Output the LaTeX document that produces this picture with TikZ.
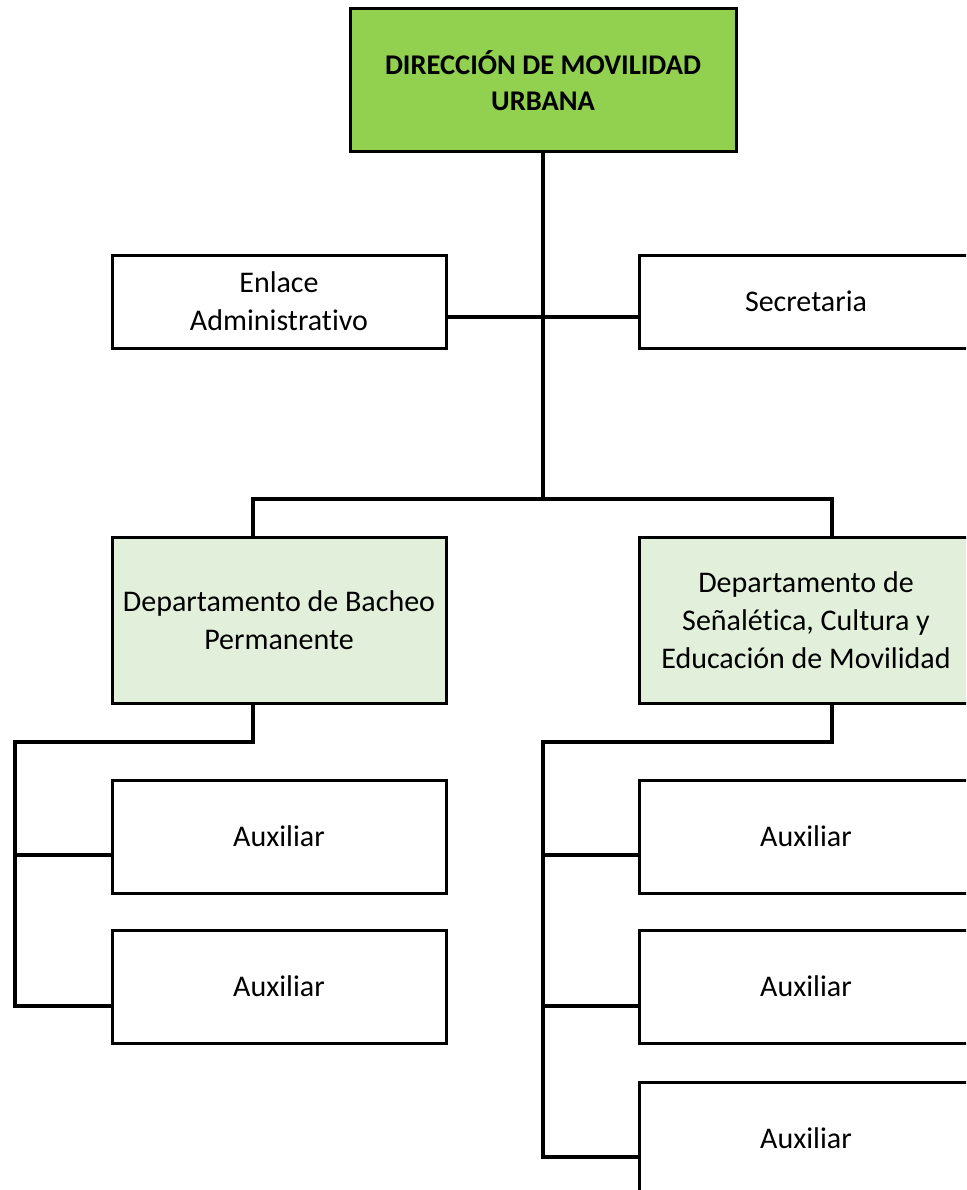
\documentclass[tikz,border=0pt]{standalone}
\usepackage{fontspec}
\setmainfont{Carlito}[Ligatures={NoCommon}]
\definecolor{topgreen}{HTML}{92D050}
\definecolor{paleg}{HTML}{E2EFDA}
\tikzset{
  orgbox/.style={draw=black, line width=3pt, rectangle, inner sep=0pt, align=center,
    font=\fontsize{30}{38}\selectfont, minimum width=334pt},
  topbox/.style={orgbox, fill=topgreen, font=\bfseries\fontsize{28.5}{36}\selectfont,
    minimum width=386pt, minimum height=143pt},
  deptbox/.style={orgbox, fill=paleg, minimum height=166pt},
  smallbox/.style={orgbox, fill=white, minimum height=93pt},
  auxbox/.style={orgbox, fill=white, minimum height=113pt},
  link/.style={draw=black, line width=3.8pt, line join=miter}
}
\begin{document}
\begin{tikzpicture}[x=1pt,y=-1pt]
\useasboundingbox (0,0) rectangle (966,1190);
\clip (0,0) rectangle (966,1190);
\fill[white] (0,0) rectangle (966,1190);
% nodes
\node[topbox] (dir) at (543,80.5) {DIRECCIÓN DE MOVILIDAD\\URBANA};
\node[smallbox] (enl) at (279,301.5) {Enlace\\Administrativo};
\node[smallbox] (sec) at (806,301.5) {Secretaria};
\node[deptbox] (dep1) at (279,620) {Departamento de Bacheo\\Permanente};
\node[deptbox] (dep2) at (806,620) {Departamento de\\Señalética, Cultura y\\Educación de Movilidad};
\node[auxbox] (aL1) at (279,836.5) {Auxiliar};
\node[auxbox] (aL2) at (279,986.5) {Auxiliar};
\node[auxbox] (aR1) at (806,836.5) {Auxiliar};
\node[auxbox] (aR2) at (806,986.5) {Auxiliar};
\node[auxbox] (aR3) at (806,1138.5) {Auxiliar};
% coordinates
\coordinate (j0) at (543,317);
\coordinate (j1) at (543,499);
\coordinate (b1) at (253,499);
\coordinate (b2) at (832,499);
\coordinate (c1) at (253,742);
\coordinate (c2) at (15,742);
\coordinate (l1) at (15,855);
\coordinate (l2) at (15,1006);
\coordinate (r0) at (832,742);
\coordinate (r1) at (543,742);
\coordinate (rA) at (543,855);
\coordinate (rB) at (543,1006);
\coordinate (rC) at (543,1157);
% connectors
\draw[link] (dir.south) -- (j1);
\draw[link] (enl.east |- j0) -- (sec.west |- j0);
\draw[link] (b1 |- dep1.north) -- (b1) -- (b2) -- (b2 |- dep2.north);
\draw[link] (c1 |- dep1.south) -- (c1) -- (c2) -- (l2) -- (l2 -| aL2.west);
\draw[link] (l1) -- (l1 -| aL1.west);
\draw[link] (r0 |- dep2.south) -- (r0) -- (r1) -- (rC) -- (rC -| aR3.west);
\draw[link] (rA) -- (rA -| aR1.west);
\draw[link] (rB) -- (rB -| aR2.west);
\end{tikzpicture}
\end{document}
